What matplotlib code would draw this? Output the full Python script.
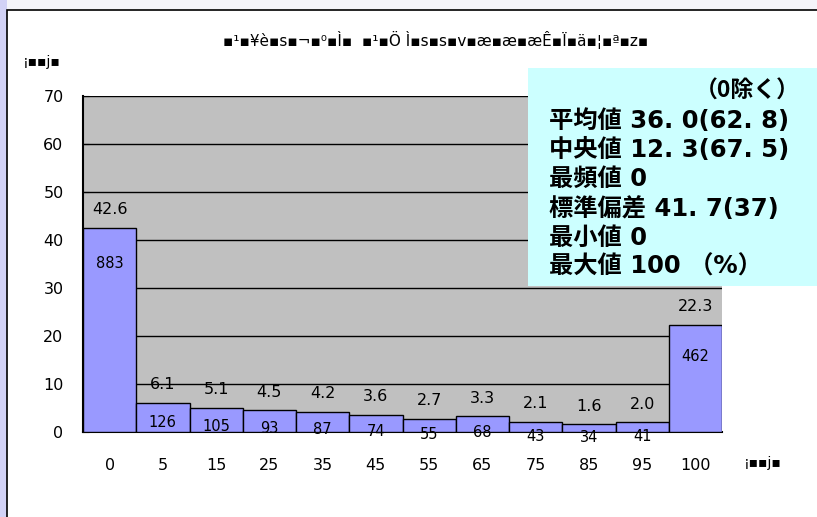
import numpy as np
import matplotlib
matplotlib.use('Agg')
import matplotlib.pyplot as plt
from matplotlib.patches import Rectangle

plt.rcParams['font.family'] = ['DejaVu Sans']

# data
cats = ['0', '5', '15', '25', '35', '45', '55', '65', '75', '85', '95', '100']
pct = [42.6, 6.1, 5.1, 4.5, 4.2, 3.6, 2.7, 3.3, 2.1, 1.6, 2.0, 22.3]
counts = [883, 126, 105, 93, 87, 74, 55, 68, 43, 34, 41, 462]
title = u'▪¹▪¥è▪s▪¬▪⁰▪Ì▪  ▪¹▪Ö Ì▪s▪s▪v▪æ▪æ▪æÊ▪Ï▪ä▪¦▪ª▪z▪'
unit = u'¡▪▪j▪'
stats = [u'平均値 36. 0(62. 8)', u'中央値 12. 3(67. 5)', u'最頻値 0',
         u'標準偏差 41. 7(37)', u'最小値 0', u'最大値 100 （%）']

W, H = 817, 517
fig = plt.figure(figsize=(W/100., H/100.), dpi=100)
fig.patch.set_facecolor('#f4f4f9')
# left strip + white frame
fig.patches.append(Rectangle((0, 0), 7./W, 1, transform=fig.transFigure,
                             facecolor='#d2d2f6', edgecolor='none', zorder=-5))
fig.patches.append(Rectangle((7./W, -0.1), 1.2, (H-10.)/H + 0.1, transform=fig.transFigure,
                             facecolor='white', edgecolor='black', lw=1.2, zorder=-5))

ax = fig.add_axes([83./W, 1-432./H, 639./W, 336./H])
ax.set_facecolor('#c0c0c0')
x = np.arange(len(cats))
ax.bar(x, pct, width=1.0, color='#9999ff', edgecolor='black', lw=1.0, zorder=3)
ax.set_xlim(-0.5, len(cats)-0.5)
ax.set_ylim(0, 70)
ax.set_yticks(np.arange(0, 71, 10))
ax.yaxis.grid(True, color='black', lw=1.0, zorder=1)
ax.set_axisbelow(True)
ax.set_xticks(x)
ax.set_xticklabels(cats, fontsize=11.5)
ax.tick_params(axis='x', length=0, pad=19)
ax.tick_params(axis='y', direction='in', length=4, labelsize=11.5, pad=14)
for s in ['top', 'right']:
    ax.spines[s].set_visible(False)
ax.spines['left'].set_linewidth(1.5)
ax.spines['bottom'].set_linewidth(1.5)

for i in range(len(cats)):
    ax.annotate('%.1f' % pct[i], (x[i], pct[i]), xytext=(0, 13), textcoords='offset points',
                ha='center', va='center', fontsize=11.5, zorder=5)
    off = 7 + 26*pct[i]/(pct[i]+15.)
    ax.annotate('%d' % counts[i], (x[i], pct[i]), xytext=(0, -off), textcoords='offset points',
                ha='center', va='center', fontsize=10.5, zorder=5)

fig.text(436./W, 1-40./H, title, ha='center', va='center', fontsize=11, family='DejaVu Sans')
fig.text(42./W, 1-62./H, unit, ha='center', va='center', fontsize=10, family='DejaVu Sans')
fig.text(763./W, 1-463./H, unit, ha='center', va='center', fontsize=10, family='DejaVu Sans')

# stats box
fig.patches.append(Rectangle((528./W, 1-286./H), 1, 218./H, transform=fig.transFigure,
                             facecolor='#ccffff', edgecolor='none', zorder=10))
jp = ['DejaVu Sans', 'Noto Sans CJK JP']
fig.text(800./W, 1-91./H, u'（0除く）', ha='right', va='center', fontsize=16.5,
         fontweight='bold', family=['Noto Sans CJK JP'], zorder=11)
for k, s in enumerate(stats):
    fig.text(549./W, 1-(121.+29.2*k)/H, s, ha='left', va='center', fontsize=17.5,
             fontweight='bold', family=jp, zorder=11)

plt.savefig('out.png', dpi=100)
